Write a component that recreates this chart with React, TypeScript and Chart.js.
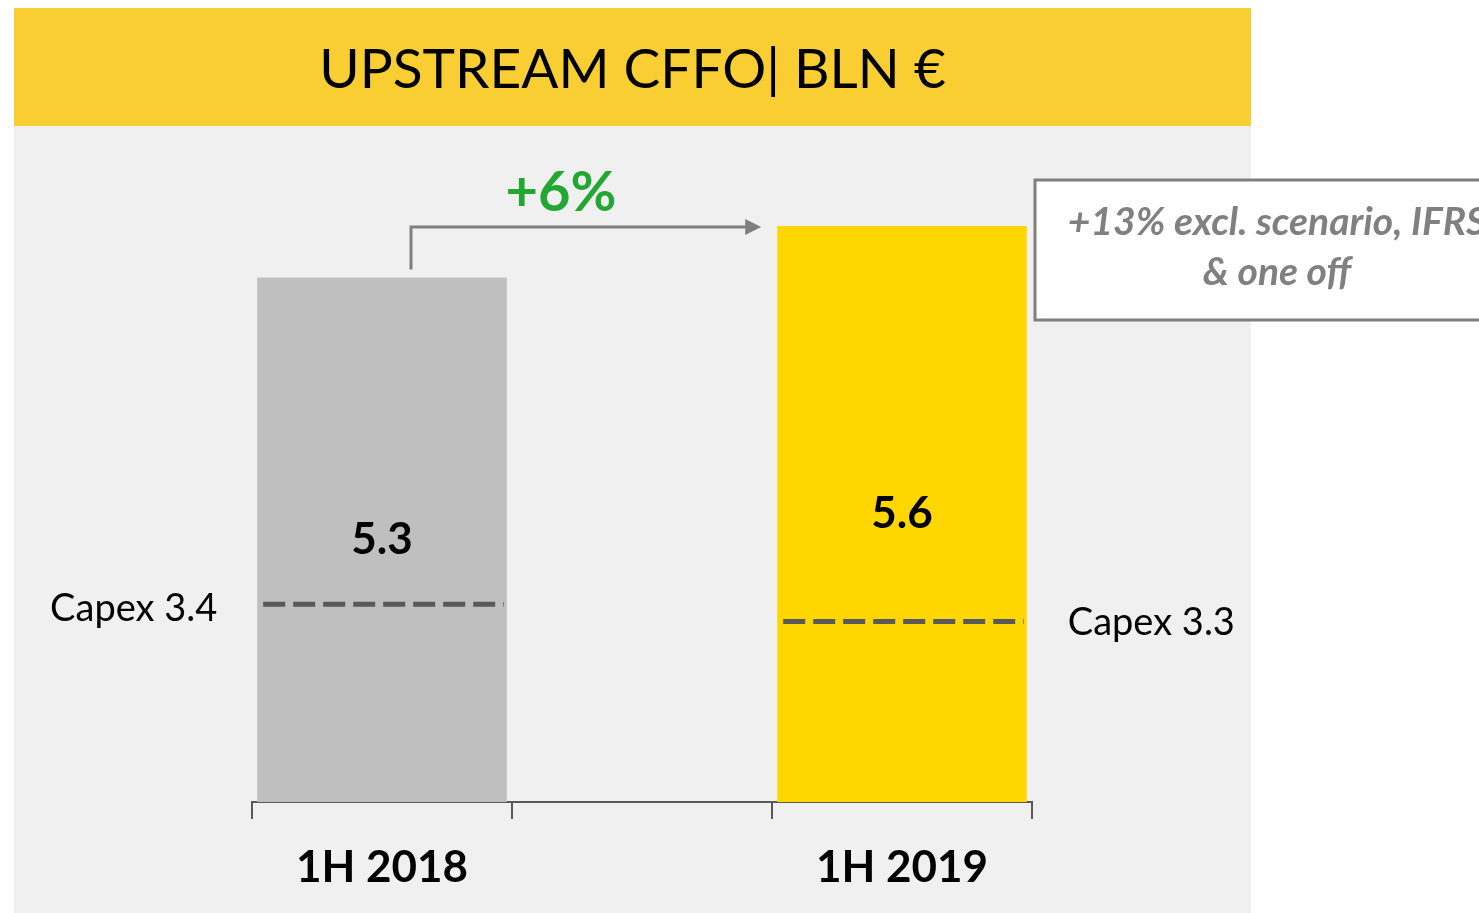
import React, { useEffect, useRef } from "react";
import { Chart, registerables } from "chart.js";

Chart.register(...registerables);

// ---- data ----
const categories = ["1H 2018", "", "1H 2019"];
const cffoValues: (number | null)[] = [5.3, null, 5.6];
const capexValues: (number | null)[] = [3.4, null, 3.3];
const valueLabels = ["5.3", "", "5.6"];
const capexLabels = ["Capex 3.4", "", "Capex 3.3"];
const barColors = ["#bfbfbf", "rgba(0,0,0,0)", "#ffd600"];
const titleText = "UPSTREAM CFFO| BLN €";
const growthLabel = "+6%";
const noteLines = ["+13% excl. scenario, IFRS", "& one off"];

const FONT = "Lato, 'Open Sans', 'DejaVu Sans', sans-serif";

const decorPlugin = {
  id: "decor",
  beforeDraw(chart: any) {
    const ctx = chart.ctx as CanvasRenderingContext2D;
    ctx.save();
    ctx.fillStyle = "#ffffff";
    ctx.fillRect(0, 0, chart.width, chart.height);
    ctx.fillStyle = "#f0f0f0";
    ctx.fillRect(14, 126, 1237, chart.height - 126);
    ctx.fillStyle = "#f9ce33";
    ctx.fillRect(14, 8, 1237, 118);
    ctx.fillStyle = "#000000";
    ctx.font = `400 55px ${FONT}`;
    ctx.textAlign = "center";
    ctx.textBaseline = "middle";
    ctx.fillText(titleText, 632.5, 70);
    ctx.restore();
  },
  afterDatasetsDraw(chart: any) {
    const ctx = chart.ctx as CanvasRenderingContext2D;
    const yScale = chart.scales.y;
    const bottom = chart.chartArea.bottom;
    const meta = chart.getDatasetMeta(0);
    const bars: any[] = [];
    ctx.save();
    meta.data.forEach((el: any, i: number) => {
      if (cffoValues[i] == null) return;
      const p = el.getProps(["x", "y", "base", "width"], true);
      bars.push(p);
      const left = p.x - p.width / 2;
      const right = p.x + p.width / 2;
      // capex dashed line
      const cy = yScale.getPixelForValue(capexValues[i] as number);
      ctx.strokeStyle = "#595959";
      ctx.lineWidth = 5;
      ctx.setLineDash([22, 8]);
      ctx.beginPath();
      ctx.moveTo(left + 6, cy);
      ctx.lineTo(right - 3, cy);
      ctx.stroke();
      ctx.setLineDash([]);
      // value label
      ctx.fillStyle = "#000000";
      ctx.font = `700 44px ${FONT}`;
      ctx.textAlign = "center";
      ctx.textBaseline = "middle";
      ctx.fillText(valueLabels[i], p.x, (p.y + Math.min(p.base, bottom)) / 2);
      // capex label
      ctx.font = `400 38px ${FONT}`;
      if (i === 0) {
        ctx.textAlign = "right";
        ctx.fillText(capexLabels[i], left - 40, cy + 4);
      } else {
        ctx.textAlign = "left";
        ctx.fillText(capexLabels[i], right + 41, cy + 1);
      }
    });
    // growth arrow
    if (bars.length === 2) {
      const b0 = bars[0];
      const b1 = bars[1];
      const ax = b0.x + 29;
      const ay = b1.y + 1;
      const tipX = b1.x - b1.width / 2 - 16;
      ctx.strokeStyle = "#7f7f7f";
      ctx.fillStyle = "#7f7f7f";
      ctx.lineWidth = 3;
      ctx.beginPath();
      ctx.moveTo(ax, b0.y - 8);
      ctx.lineTo(ax, ay);
      ctx.lineTo(tipX - 14, ay);
      ctx.stroke();
      ctx.beginPath();
      ctx.moveTo(tipX, ay);
      ctx.lineTo(tipX - 16, ay - 8);
      ctx.lineTo(tipX - 16, ay + 8);
      ctx.closePath();
      ctx.fill();
      ctx.fillStyle = "#22a832";
      ctx.font = `700 56px ${FONT}`;
      ctx.textAlign = "center";
      ctx.textBaseline = "middle";
      ctx.fillText(growthLabel, ax + 150, ay - 34);
    }
    ctx.restore();
  },
  afterDraw(chart: any) {
    const ctx = chart.ctx as CanvasRenderingContext2D;
    ctx.save();
    ctx.fillStyle = "#ffffff";
    ctx.fillRect(1035, 180, 520, 140);
    ctx.strokeStyle = "#7f7f7f";
    ctx.lineWidth = 3;
    ctx.strokeRect(1035, 180, 520, 140);
    ctx.fillStyle = "#808080";
    ctx.font = `italic 700 39px ${FONT}`;
    ctx.textAlign = "center";
    ctx.textBaseline = "middle";
    ctx.fillText(noteLines[0], 1277, 222);
    ctx.fillText(noteLines[1], 1277, 272);
    ctx.restore();
  },
};

export default function App() {
  const canvasRef = useRef<HTMLCanvasElement | null>(null);

  useEffect(() => {
    const canvas = canvasRef.current;
    if (!canvas) return;
    const chart = new Chart(canvas, {
      type: "bar",
      data: {
        labels: categories,
        datasets: [
          {
            data: cffoValues as any,
            backgroundColor: barColors,
            barPercentage: 0.96,
            categoryPercentage: 1,
          },
        ],
      },
      options: {
        responsive: false,
        animation: false,
        devicePixelRatio: 1,
        layout: { padding: { left: 252, right: 447, top: 140, bottom: 0 } },
        plugins: {
          legend: { display: false },
          tooltip: { enabled: false },
          title: { display: false },
        },
        scales: {
          x: {
            z: 1,
            grid: {
              offset: true,
              drawOnChartArea: false,
              drawTicks: true,
              tickLength: 17,
              color: "#595959",
              lineWidth: 2,
            },
            border: { display: true, color: "#595959", width: 2 },
            ticks: {
              color: "#000000",
              font: { family: FONT, size: 44, weight: "bold" },
              padding: 22,
              maxRotation: 0,
              autoSkip: false,
            },
            afterFit: (s: any) => {
              s.height = 111;
            },
          },
          y: { display: false, min: 2.25, max: 6.1 },
        },
      },
      plugins: [decorPlugin as any],
    });
    return () => chart.destroy();
  }, []);

  return (
    <div style={{ position: "absolute", left: 0, top: 0, width: 1479, height: 913, overflow: "hidden" }}>
      <canvas ref={canvasRef} width={1479} height={913} style={{ display: "block", width: 1479, height: 913 }} />
    </div>
  );
}
